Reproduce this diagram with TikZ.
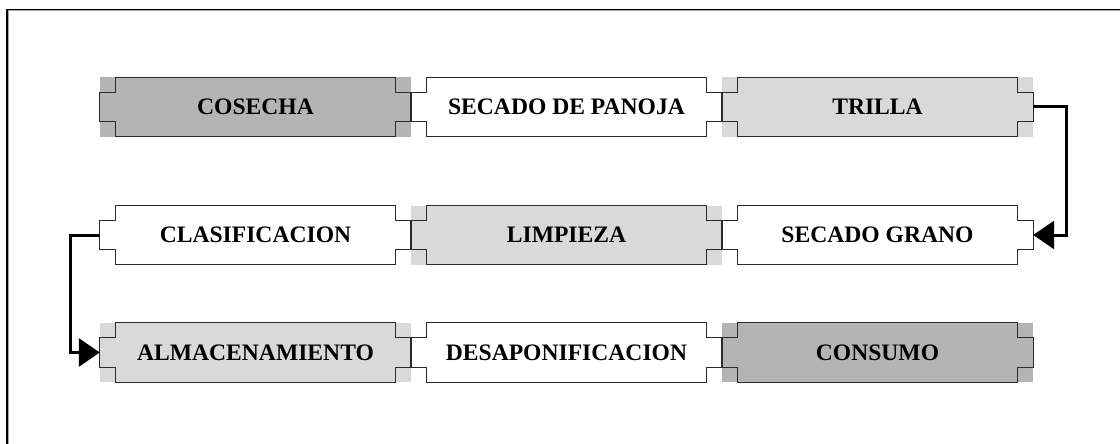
\documentclass[tikz,border=0pt]{standalone}
\usepackage{fontspec}
\setmainfont{Liberation Serif}
\usetikzlibrary{arrows.meta,calc}
\definecolor{darkfill}{HTML}{B4B4B4}
\definecolor{lightfill}{HTML}{D9D9D9}
\definecolor{edge}{HTML}{2A2A2A}
\newcommand{\stagefont}{\fontsize{23.6}{28}\selectfont\bfseries}
\tikzset{
  stage/.style={rectangle, minimum width=311pt, minimum height=59pt, inner sep=0pt, font=\stagefont, text=black},
  darkstage/.style={stage, fill=darkfill},
  lightstage/.style={stage, fill=lightfill},
  plainstage/.style={stage, fill=white},
  outline/.style={draw=edge, line width=1.2pt},
  flow/.style={line width=3pt, -{Triangle[length=21pt, width=28pt]}},
}
\begin{document}
\begin{tikzpicture}[x=1pt, y=-1pt]
\useasboundingbox (0,0) rectangle (1120,444);
% frame
\draw[gray!70, line width=1pt] (8.5,444) -- (8.5,11) -- (1120,11);
\draw[black, line width=1.4pt] (7,444) -- (7,9.5) -- (1120,9.5);
% row 1
\node[darkstage]  (cosecha) at (255.5,107) {COSECHA};
\node[plainstage] (panoja)  at (566.5,107) {SECADO DE PANOJA};
\node[lightstage] (trilla)  at (877.5,107) {TRILLA};
% row 2
\node[plainstage] (clas)    at (255.5,235) {CLASIFICACION};
\node[lightstage] (limp)    at (566.5,235) {LIMPIEZA};
\node[plainstage] (grano)   at (877.5,235) {SECADO GRANO};
% row 3
\node[lightstage] (alma)    at (255.5,352.5) {ALMACENAMIENTO};
\node[plainstage] (desap)   at (566.5,352.5) {DESAPONIFICACION};
\node[darkstage]  (consumo) at (877.5,352.5) {CONSUMO};
% notched outlines
\foreach \n in {cosecha,panoja,trilla,clas,limp,grano,alma,desap,consumo}{
  \draw[outline]
    ($(\n.north west)+(16,0)$) -- ($(\n.north east)+(-16,0)$)
    -- ($(\n.north east)+(-16,15)$) -- ($(\n.north east)+(0,15)$)
    -- ($(\n.south east)+(0,-15)$) -- ($(\n.south east)+(-16,-15)$)
    -- ($(\n.south east)+(-16,0)$) -- ($(\n.south west)+(16,0)$)
    -- ($(\n.south west)+(16,-15)$) -- ($(\n.south west)+(0,-15)$)
    -- ($(\n.north west)+(0,15)$) -- ($(\n.north west)+(16,15)$)
    -- cycle;
}
% connectors
\draw[flow] (trilla.east) -- ++(33,0) |- (grano.east);
\draw[flow] (clas.west) -- ++(-29,0) |- (alma.west);
\end{tikzpicture}
\end{document}
